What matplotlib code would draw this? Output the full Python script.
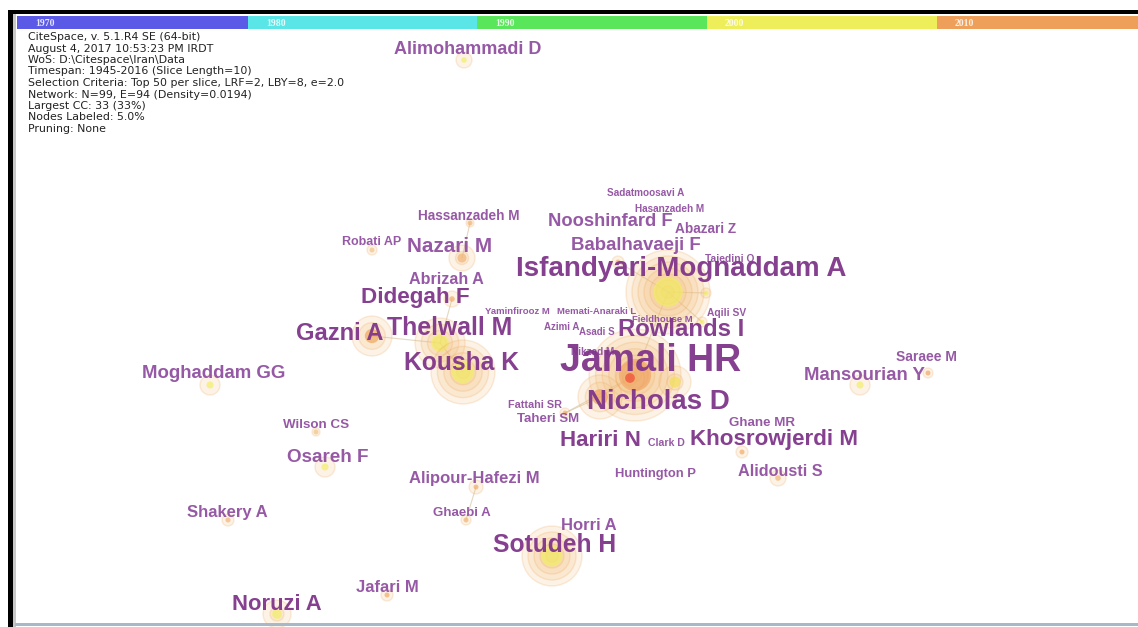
import matplotlib.pyplot as plt
from matplotlib.patches import Circle, Rectangle

# Time slices of the colour bar
annees = ['1970', '1980', '1990', '2000', '2010']
annee_debut = [17, 248, 477, 707, 937]
annee_couleurs = ['#5a5ae6', '#5ae6e6', '#5ae65a', '#eeee5a', '#eea05a']

# Header text of CiteSpace
infos = [
    'CiteSpace, v. 5.1.R4 SE (64-bit)',
    'August 4, 2017 10:53:23 PM IRDT',
    'WoS: D:\\Citespace\\Iran\\Data',
    'Timespan: 1945-2016 (Slice Length=10)',
    'Selection Criteria: Top 50 per slice, LRF=2, LBY=8, e=2.0',
    'Network: N=99, E=94 (Density=0.0194)',
    'Largest CC: 33 (33%)',
    'Nodes Labeled: 5.0%',
    'Pruning: None',
]

# Author labels (centre position in pixels, font size)
auteurs = ['Alimohammadi D', 'Sadatmoosavi A', 'Hasanzadeh M', 'Hassanzadeh M', 'Nooshinfard F',
           'Abazari Z', 'Robati AP', 'Nazari M', 'Babalhavaeji F', 'Tajedini O',
           'Isfandyari-Mognaddam A', 'Abrizah A', 'Didegah F', 'Yaminfirooz M', 'Memati-Anaraki L',
           'Fieldhouse M', 'Aqili SV', 'Azimi A', 'Asadi S', 'Gazni A',
           'Thelwall M', 'Rowlands I', 'Nikzad M', 'Kousha K', 'Jamali HR',
           'Moghaddam GG', 'Saraee M', 'Mansourian Y', 'Nicholas D', 'Fattahi SR',
           'Taheri SM', 'Ghane MR', 'Wilson CS', 'Hariri N', 'Clark D',
           'Khosrowjerdi M', 'Osareh F', 'Huntington P', 'Alidousti S', 'Alipour-Hafezi M',
           'Shakery A', 'Ghaebi A', 'Horri A', 'Sotudeh H', 'Jafari M', 'Noruzi A']
label_x = [468, 646, 670, 469, 610, 706, 372, 450, 636, 730,
           681, 446, 415, 517, 597, 662, 727, 562, 597, 340,
           450, 681, 593, 462, 651, 214, 926, 864, 658, 535,
           548, 762, 316, 600, 666, 774, 328, 656, 780, 474,
           227, 462, 589, 555, 387, 277]
label_y = [49, 193, 209, 216, 222, 229, 242, 246, 246, 259,
           269, 279, 298, 312, 312, 319, 313, 327, 332, 334,
           328, 329, 352, 363, 361, 374, 357, 375, 402, 405,
           419, 423, 425, 440, 443, 440, 457, 474, 472, 479,
           512, 513, 526, 545, 587, 605]
tailles = [13, 7.2, 7.2, 9.8, 13.2, 9.8, 9, 14.9, 13.4, 7.4,
           20, 11.6, 16.2, 6.8, 6.8, 6.8, 7.4, 7, 7, 17,
           17.8, 17.2, 7.2, 17.7, 27, 13.4, 10, 13.4, 19.9, 7.8,
           9.5, 9.6, 9.6, 16.1, 7.6, 16.1, 13.6, 9.4, 11.7, 12,
           12, 9.5, 12, 17.7, 12, 15.8]

# Node circles (centre, radius, colour of the inner ring)
noeud_x = [464, 470, 372, 462, 668, 706, 452, 372, 440, 463,
           635, 630, 675, 600, 210, 860, 928, 565, 316, 742,
           778, 325, 476, 466, 228, 552, 387, 277, 702, 618]
noeud_y = [60, 223, 250, 258, 292, 293, 299, 336, 343, 372,
           375, 378, 382, 397, 385, 385, 373, 413, 432, 452,
           478, 467, 487, 520, 520, 556, 595, 614, 322, 262]
noeud_r = [8, 4, 5, 13, 42, 5, 8, 20, 25, 32,
           46, 14, 16, 22, 10, 10, 5, 5, 4, 6,
           8, 10, 7, 5, 6, 30, 6, 14, 5, 6]
noeud_coeur = ['#f2ee60', '#f0b070', '#f0c080', '#f0b070', '#f2ee60', '#f2ee60', '#f0a860', '#f0a860', '#f2ee60', '#f2ee60',
               '#f0a060', '#f04030', '#f2e050', '#f0a060', '#f2ee60', '#f2ee60', '#f0a060', '#f0a860', '#f0c080', '#f0a860',
               '#f0b070', '#f2ee60', '#f0a860', '#f0b070', '#f0b070', '#f2ee60', '#f0a860', '#f2ee60', '#f2ee60', '#f0b070']

# Links between nodes (indices in the node lists)
liens = [(1, 3), (22, 23), (4, 29), (4, 5), (8, 9), (7, 8), (10, 13), (10, 17), (4, 28), (10, 4), (6, 8), (13, 17)]

fig = plt.figure(figsize=(11.38, 6.27), dpi=100)
ax = fig.add_axes([0, 0, 1, 1])
ax.set_xlim(0, 1138)
ax.set_ylim(627, 0)
ax.axis('off')

# Liens
for a, b in liens:
    ax.plot([noeud_x[a], noeud_x[b]], [noeud_y[a], noeud_y[b]], color='#d8c8a8', lw=0.8, alpha=0.7, zorder=1)

# Noeuds en anneaux
for x, y, r, c in zip(noeud_x, noeud_y, noeud_r, noeud_coeur):
    n = max(1, int(r / 6))
    for k in range(n, 0, -1):
        ax.add_patch(Circle((x, y), r * k / n, facecolor='#f4c080', alpha=0.2,
                            edgecolor='#eea050', lw=1.0, zorder=2))
    ax.add_patch(Circle((x, y), max(2.5, r * 0.35), facecolor=c, alpha=0.65, lw=0, zorder=2))

# Etiquettes
for nom, x, y, t in zip(auteurs, label_x, label_y, tailles):
    couleur = '#80358a' if t >= 15 else '#9150a0'
    ax.text(x, y, nom, fontsize=t, color=couleur, fontweight='bold', family='Liberation Sans',
            ha='center', va='center', alpha=0.95, zorder=3)

# Barre des années
for i, (an, x0, c) in enumerate(zip(annees, annee_debut, annee_couleurs)):
    x1 = annee_debut[i + 1] if i + 1 < len(annees) else 1138
    ax.add_patch(Rectangle((x0, 16), x1 - x0, 13, facecolor=c, lw=0, zorder=4))
    ax.text(x0 + 18, 23, an, fontsize=7, color='white', alpha=0.85, fontweight='bold',
            family='Liberation Serif', va='center', ha='left', zorder=5)

# Texte d'information
for i, ligne in enumerate(infos):
    ax.text(28, 37 + i * 11.5, ligne, fontsize=7.9, color='#222222', family='DejaVu Sans',
            va='center', ha='left', zorder=5)

# Cadre de la capture
ax.add_patch(Rectangle((8, 10), 1130, 4, facecolor='black', lw=0, zorder=6))
ax.add_patch(Rectangle((8, 10), 5, 617, facecolor='black', lw=0, zorder=6))
ax.add_patch(Rectangle((13, 14), 3, 613, facecolor='#c8c8c8', lw=0, zorder=6))
ax.add_patch(Rectangle((15, 623), 1123, 3, facecolor='#a8b8c8', lw=0, zorder=6))

fig.savefig('out.png', dpi=100)
